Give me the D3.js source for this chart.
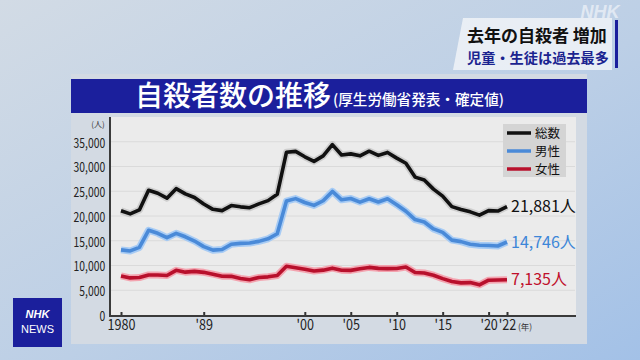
<!DOCTYPE html>
<html><head><meta charset="utf-8">
<script src="https://cdn.jsdelivr.net/npm/d3@7"></script>
<style>
body{margin:0;background:#fff;}
svg{display:block;font-family:"Noto Sans CJK JP","Noto Sans",sans-serif;}
</style>
</head><body>
<svg id="c" width="640" height="360"></svg>
<script>
// ---- data ----
const years = [1980,1981,1982,1983,1984,1985,1986,1987,1988,1989,1990,1991,1992,1993,1994,1995,1996,1997,1998,1999,2000,2001,2002,2003,2004,2005,2006,2007,2008,2009,2010,2011,2012,2013,2014,2015,2016,2017,2018,2019,2020,2021,2022];
const total = [21048,20434,21228,25202,24596,23599,25524,24460,23742,22436,21346,21084,22104,21851,21679,22445,23104,24391,32863,33048,31957,31042,32143,34427,32325,32552,32155,33093,32249,32845,31690,30651,27858,27283,25427,24025,21897,21321,20840,20169,21081,21007,21881];
const male = [13155,12942,13654,17116,16508,15624,16497,15802,14934,13818,13102,13242,14296,14468,14560,14874,15393,16416,23013,23512,22727,22144,23080,24963,23272,23540,22813,23478,22831,23472,22283,20955,19273,18787,17386,16681,15121,14826,14290,14078,14055,13939,14746];
const female = [7893,7492,7574,8086,8088,7975,9027,8658,8808,8618,8244,7842,7808,7383,7119,7571,7711,7975,9850,9536,9230,8898,9063,9464,9053,9012,9342,9615,9418,9373,9407,9696,8585,8496,8041,7344,6776,6495,6550,6091,7026,7068,7135];
const seriesNames = ["総数","男性","女性"];
const endLabels = ["21,881人","14,746人","7,135人"];
const yTicks = [0,5000,10000,15000,20000,25000,30000,35000];
const xTickYears = [1980,1989,2000,2005,2010,2015,2020,2022];
const xTickLabels = ["1980","'89","'00","'05","'10","'15","'20","'22"];
const titleText = "自殺者数の推移";
const subtitleText = "(厚生労働省発表・確定値)";
const captionLines = ["去年の自殺者 増加","児童・生徒は過去最多"];

// ---- drawing ----
const svg = d3.select("#c");
const defs = svg.append("defs");
const bg = defs.append("linearGradient").attr("id","bg").attr("x1","0").attr("y1","0").attr("x2","1").attr("y2","1");
bg.append("stop").attr("offset","0").attr("stop-color","#d2dbe5");
bg.append("stop").attr("offset","0.55").attr("stop-color","#bccfe6");
bg.append("stop").attr("offset","1").attr("stop-color","#a3c1e7");
svg.append("rect").attr("width",640).attr("height",360).attr("fill","url(#bg)");

// card
svg.append("rect").attr("x",71).attr("y",74).attr("width",516).attr("height",270).attr("fill","#d3dae3");
// banner
svg.append("rect").attr("x",71).attr("y",79).attr("width",516).attr("height",34).attr("fill","#1b1f9c");
svg.append("text").attr("x",135).attr("y",106).attr("fill","#fff").attr("font-size",28).attr("font-weight",500).text(titleText);
svg.append("text").attr("x",333).attr("y",105).attr("fill","#fff").attr("font-size",14.6).attr("font-weight",500).text(subtitleText);

const x = d3.scaleLinear().domain([1980,2022]).range([121,507]);
const y = d3.scaleLinear().domain([0,40000]).range([315,117]);

// plot bg
svg.append("rect").attr("x",110).attr("y",117).attr("width",466).attr("height",199).attr("fill","#ebebeb");
// grid
svg.append("g").selectAll("line").data(yTicks.filter(d=>d>0)).join("line")
  .attr("x1",111).attr("x2",575).attr("y1",d=>y(d)).attr("y2",d=>y(d))
  .attr("stroke","#dadada").attr("stroke-width",1);

// y axis
const ya = svg.append("g").attr("transform","translate(110,0)")
  .call(d3.axisLeft(y).tickValues(yTicks).tickFormat(d3.format(",")).tickSize(0).tickPadding(5));
ya.select(".domain").remove();
ya.selectAll("text").attr("font-size",14).attr("fill","#222").attr("font-family","Noto Sans CJK JP")
  .attr("x",-6.5).attr("transform","scale(0.74,1)").attr("dy","0.38em");
svg.append("text").attr("x",98).attr("y",127).attr("text-anchor","middle").attr("font-size",8).attr("fill","#333").text("(人)");

// x axis
const xa = svg.append("g").attr("transform","translate(0,316)")
  .call(d3.axisBottom(x).tickValues(xTickYears).tickFormat((d,i)=>xTickLabels[i]).tickSizeInner(-4).tickSizeOuter(0).tickPadding(3));
xa.select(".domain").remove();
xa.selectAll(".tick line").attr("stroke","#333").attr("stroke-width",2);
xa.selectAll("text").attr("font-size",15).attr("fill","#222").attr("font-family","Noto Sans CJK JP")
  .attr("transform","scale(0.84,1)");
svg.append("text").attr("x",518).attr("y",330).attr("font-size",8.5).attr("fill","#333").text("(年)");
// axis lines
svg.append("line").attr("x1",110).attr("x2",110).attr("y1",117).attr("y2",317).attr("stroke","#3a3a3a").attr("stroke-width",2);
svg.append("line").attr("x1",109).attr("x2",576).attr("y1",316).attr("y2",316).attr("stroke","#3a3a3a").attr("stroke-width",2);

// lines
const line = d3.line().x((d,i)=>x(years[i])).y(d=>y(d)).curve(d3.curveLinear);
const series = [
  {vals: total, color:"#111111", halo:"rgba(120,120,120,0.25)"},
  {vals: male, color:"#4a8ad8", halo:"rgba(160,200,245,0.9)"},
  {vals: female, color:"#b8102c", halo:"rgba(245,150,165,0.85)"}
];
series.forEach(s=>{
  svg.append("path").attr("d",line(s.vals)).attr("fill","none").attr("stroke",s.halo).attr("stroke-width",7).attr("stroke-linejoin","round");
  svg.append("path").attr("d",line(s.vals)).attr("fill","none").attr("stroke",s.color).attr("stroke-width",3.6).attr("stroke-linejoin","round");
});

// end labels
const labelColors = ["#111","#3d86d8","#c0102c"];
const labelVals = [total[total.length-1], male[male.length-1], female[female.length-1]];
svg.append("g").selectAll("text").data(endLabels).join("text")
  .attr("x",511).attr("y",(d,i)=>y(labelVals[i])).attr("dy","0.36em")
  .attr("font-size",16).attr("fill",(d,i)=>labelColors[i]).text(d=>d);

// legend
svg.append("rect").attr("x",503).attr("y",124).attr("width",63).attr("height",53).attr("fill","#d4d4d4");
const lg = svg.append("g").selectAll("g").data(seriesNames).join("g")
  .attr("transform",(d,i)=>`translate(507,${133+i*18})`);
lg.append("line").attr("x1",0).attr("x2",24).attr("stroke",(d,i)=>series[i].color).attr("stroke-width",3.5);
lg.append("text").attr("x",28).attr("dy","0.36em").attr("font-size",12.5).attr("fill","#111").text(d=>d);

// NHK watermark
svg.append("text").attr("x",600).attr("y",18).attr("text-anchor","middle").attr("font-size",18).attr("font-weight",700)
  .attr("font-style","italic").attr("font-family","Liberation Sans").attr("fill","rgba(255,255,255,0.55)").text("NHK");
// caption top right
svg.append("path").attr("d","M463,18 L612,18 L612,70 L453,70 Z").attr("fill","rgba(240,243,247,0.85)");
svg.append("rect").attr("x",615).attr("y",20).attr("width",3).attr("height",48).attr("fill","#1b1f9c");
svg.append("text").attr("x",467).attr("y",42).attr("font-size",17).attr("font-weight",700).attr("fill","#111").text(captionLines[0]);
svg.append("text").attr("x",467).attr("y",63).attr("font-size",14.2).attr("font-weight",700).attr("fill","#1b2490").text(captionLines[1]);

// NHK NEWS logo
svg.append("rect").attr("x",13).attr("y",298).attr("width",49).attr("height",49).attr("fill","#1b1f9c");
svg.append("text").attr("x",37.5).attr("y",318).attr("text-anchor","middle").attr("font-size",11).attr("font-weight",700).attr("font-style","italic").attr("font-family","Liberation Sans").attr("fill","#fff").text("NHK");
svg.append("text").attr("x",37.5).attr("y",333).attr("text-anchor","middle").attr("font-size",11).attr("font-family","Liberation Sans").attr("fill","#fff").text("NEWS");
</script>
</body></html>
